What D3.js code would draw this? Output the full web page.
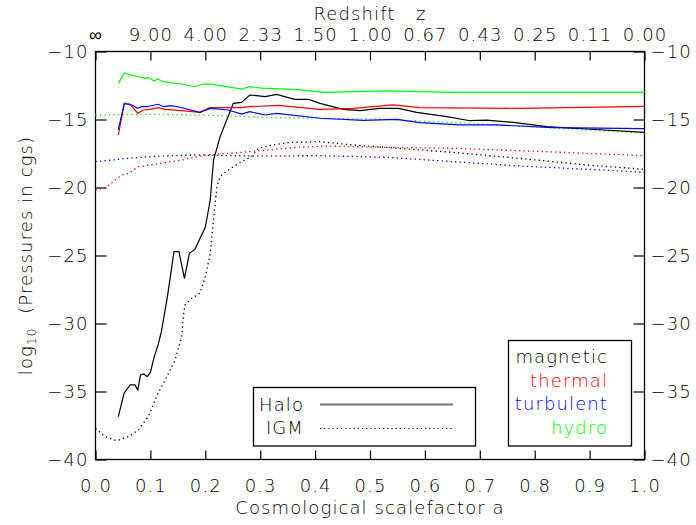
<!DOCTYPE html>
<html>
<head>
<meta charset="utf-8">
<script src="https://cdn.jsdelivr.net/npm/d3@7"></script>
<style>
  body { margin: 0; background: #fff; }
  text { font-family: "DejaVu Sans", sans-serif; font-weight: 300; fill: #000; letter-spacing: 1.1px; }
</style>
</head>
<body>
<svg id="chart" width="696" height="525"></svg>
<script>
// scalefactor ticks and redshift labels on the top axis
var aTicks = [0, 0.1, 0.2, 0.3, 0.4, 0.5, 0.6, 0.7, 0.8, 0.9, 1.0];
var zLabels = ["\u221E", "9.00", "4.00", "2.33", "1.50", "1.00", "0.67", "0.43", "0.25", "0.11", "0.00"];
var yTicks = [-10, -15, -20, -25, -30, -35, -40];

// Halo (solid)
var haloMagA = [0.0415,0.052,0.063,0.072,0.077,0.082,0.088,0.094,0.1,0.107,0.114,0.12,0.131,0.143,0.152,0.162,0.171,0.181,0.2,0.209,0.215,0.227,0.239,0.251,0.266,0.281,0.309,0.33,0.363,0.388,0.409,0.451,0.482,0.518,0.552,0.585,0.64,0.682,0.712,0.761,0.822,0.895,1.0];
var haloMag = [-36.85,-35.13,-34.52,-34.52,-34.89,-33.79,-33.71,-33.91,-33.6,-32.44,-31.58,-30.6,-28.03,-24.72,-24.72,-26.68,-24.84,-24.55,-22.93,-20.92,-17.98,-16.26,-15.04,-13.81,-13.74,-13.2,-13.32,-13.15,-13.52,-13.52,-13.81,-14.25,-14.35,-14.18,-14.18,-14.47,-14.79,-15.09,-15.04,-15.21,-15.53,-15.7,-15.94];

var haloThermA = [0.0415,0.0525,0.063,0.077,0.087,0.099,0.114,0.127,0.157,0.19,0.209,0.242,0.266,0.281,0.333,0.409,0.47,0.542,0.591,0.773,1.0];
var haloTherm = [-16.14,-13.86,-13.86,-14.55,-14.3,-14.25,-14.13,-14.25,-14.35,-14.47,-14.13,-14.13,-14.13,-14.06,-13.96,-14.25,-14.18,-13.93,-14.13,-14.18,-14.03];

var haloTurbA = [0.0415,0.0525,0.066,0.077,0.084,0.093,0.114,0.124,0.137,0.154,0.19,0.209,0.242,0.266,0.281,0.309,0.33,0.409,0.488,0.549,0.591,0.664,0.731,0.834,1.0];
var haloTurb = [-15.77,-13.81,-13.93,-14.18,-14.06,-14.06,-13.88,-14.06,-13.98,-14.1,-14.47,-14.18,-14.3,-14.6,-14.42,-14.67,-14.55,-14.91,-15.06,-14.99,-15.23,-15.4,-15.4,-15.6,-15.67];

var haloHydroA = [0.0415,0.0525,0.072,0.09,0.096,0.107,0.113,0.124,0.157,0.181,0.196,0.212,0.266,0.281,0.303,0.363,0.418,0.53,0.65,0.8,1.0];
var haloHydro = [-12.34,-11.6,-11.8,-11.97,-11.9,-12.17,-12.02,-12.24,-12.39,-12.59,-12.39,-12.4,-12.76,-12.59,-12.7,-12.78,-13.0,-12.9,-13.0,-13.0,-13.0];

// IGM (dotted)
var igmMagA = [0.0,0.017,0.039,0.06,0.078,0.096,0.114,0.13,0.145,0.157,0.16,0.163,0.175,0.19,0.2,0.209,0.215,0.221,0.227,0.242,0.266,0.284,0.297,0.321,0.351,0.409,0.47,0.53,0.652,0.773,0.895,1.0];
var igmMag = [-37.71,-38.32,-38.62,-38.32,-37.83,-36.85,-35.13,-33.91,-32.68,-30.97,-29.5,-28.64,-28.15,-27.78,-26.56,-24.84,-22.39,-19.94,-19.2,-18.71,-18.1,-17.74,-17.12,-16.88,-16.7,-16.63,-16.88,-17.05,-17.42,-17.86,-18.35,-18.66];

var igmThermA = [0,0.017,0.036,0.048,0.06,0.078,0.12,0.157,0.2,0.242,0.303,0.363,0.418,0.53,0.652,0.773,0.895,1.0];
var igmTherm = [-20.18,-20.06,-19.45,-19.08,-18.96,-18.47,-18.22,-17.98,-17.61,-17.49,-17.29,-17.05,-16.95,-17.05,-17.12,-17.29,-17.49,-17.66];

var igmTurbA = [0,0.06,0.12,0.181,0.242,0.303,0.409,0.53,0.652,0.773,0.895,1.0];
var igmTurb = [-18.1,-17.85,-17.68,-17.61,-17.66,-17.68,-17.66,-17.78,-18.1,-18.42,-18.66,-18.88];

var igmHydroA = [0,0.06,0.12,0.181,0.242,0.303,0.418,0.53,0.652,0.773,0.895,1.0];
var igmHydro = [-14.67,-14.62,-14.62,-14.67,-14.74,-14.84,-14.91,-14.99,-15.23,-15.48,-15.77,-16.01];

var kinds = ["magnetic", "thermal", "turbulent", "hydro"];
var colors = ["#000000", "#ff0000", "#0000ff", "#00ff00"];

var svg = d3.select("#chart"),
    mLeft = 95.5, mRight = 644.5, mTop = 51.5, mBottom = 459.5;

var x = d3.scaleLinear().domain([0, 1]).range([mLeft, mRight]);
var y = d3.scaleLinear().domain([-40, -10]).range([mBottom, mTop]);

// axes, ticks point inward
var fmtY = function (d) { return "\u2212" + Math.abs(d); };

svg.append("g").attr("transform", "translate(0," + mBottom + ")")
    .call(d3.axisBottom(x).tickValues(aTicks).tickFormat(d3.format(".1f")).tickSizeInner(-9).tickSizeOuter(0).tickPadding(20));
svg.append("g").attr("transform", "translate(0," + mTop + ")")
    .call(d3.axisTop(x).tickValues(aTicks).tickFormat(function (d, i) { return zLabels[i]; }).tickSizeInner(-9).tickSizeOuter(0).tickPadding(11));
svg.append("g").attr("transform", "translate(" + mLeft + ",0)")
    .call(d3.axisLeft(y).tickValues(yTicks).tickFormat(fmtY).tickSizeInner(-11).tickSizeOuter(0).tickPadding(7));
svg.append("g").attr("transform", "translate(" + mRight + ",0)")
    .call(d3.axisRight(y).tickValues(yTicks).tickFormat(fmtY).tickSizeInner(-11).tickSizeOuter(0).tickPadding(6));

svg.selectAll(".domain").remove();
svg.selectAll(".tick line").attr("stroke", "#000").attr("stroke-width", 1.2);
svg.selectAll(".tick text").style("font-size", "18px");

svg.append("rect")
    .attr("x", mLeft).attr("y", mTop)
    .attr("width", mRight - mLeft).attr("height", mBottom - mTop)
    .attr("fill", "none").attr("stroke", "#000").attr("stroke-width", 1.3);

// curves
var line = d3.line()
    .x(function (d) { return x(d[0]); })
    .y(function (d) { return y(d[1]); });

var haloSets = [[haloMagA, haloMag], [haloThermA, haloTherm], [haloTurbA, haloTurb], [haloHydroA, haloHydro]];
var igmSets = [[igmMagA, igmMag], [igmThermA, igmTherm], [igmTurbA, igmTurb], [igmHydroA, igmHydro]];

var curves = svg.append("g");
igmSets.forEach(function (s, i) {
    curves.append("path")
        .datum(d3.zip(s[0], s[1]))
        .attr("d", line)
        .attr("fill", "none")
        .attr("stroke", colors[i])
        .attr("stroke-width", 1.3)
        .attr("stroke-dasharray", "1.3,3.2");
});
haloSets.forEach(function (s, i) {
    curves.append("path")
        .datum(d3.zip(s[0], s[1]))
        .attr("d", line)
        .attr("fill", "none")
        .attr("stroke", colors[i])
        .attr("stroke-width", 1.2);
});

// titles
svg.append("text")
    .attr("x", 370).attr("y", 20)
    .attr("text-anchor", "middle")
    .style("font-size", "18px").style("white-space", "pre")
    .text("Redshift   z");

svg.append("text")
    .attr("x", 370).attr("y", 514)
    .attr("text-anchor", "middle")
    .style("font-size", "18px")
    .text("Cosmological scalefactor a");

var ylab = svg.append("text")
    .attr("transform", "translate(32," + ((mTop + mBottom) / 2) + ") rotate(-90)")
    .attr("text-anchor", "middle")
    .style("font-size", "18px");
ylab.append("tspan").text("log");
ylab.append("tspan").attr("dy", 4).style("font-size", "12px").text("10");
ylab.append("tspan").attr("dy", -4).style("white-space", "pre").text("  (Pressures in cgs)");

// Halo / IGM legend
var leg1 = svg.append("g");
leg1.append("rect")
    .attr("x", 253.5).attr("y", 387.5).attr("width", 222).attr("height", 58.5)
    .attr("fill", "none").attr("stroke", "#000").attr("stroke-width", 1.3);
leg1.append("text").attr("x", 304).attr("y", 411).attr("text-anchor", "end")
    .style("font-size", "18px").text("Halo");
leg1.append("text").attr("x", 304).attr("y", 434).attr("text-anchor", "end")
    .style("font-size", "18px").text("IGM");
leg1.append("line").attr("x1", 320).attr("x2", 453).attr("y1", 404.5).attr("y2", 404.5)
    .attr("stroke", "#777").attr("stroke-width", 2);
leg1.append("line").attr("x1", 320).attr("x2", 453).attr("y1", 428.5).attr("y2", 428.5)
    .attr("stroke", "#000").attr("stroke-width", 1.2).attr("stroke-dasharray", "1.2,3");

// component legend
var leg2 = svg.append("g");
leg2.append("rect")
    .attr("x", 508.5).attr("y", 340.5).attr("width", 123).attr("height", 105.5)
    .attr("fill", "none").attr("stroke", "#000").attr("stroke-width", 1.3);
kinds.forEach(function (k, i) {
    leg2.append("text")
        .attr("x", 608).attr("y", 363 + i * 23.7)
        .attr("text-anchor", "end")
        .style("font-size", "18px")
        .style("fill", colors[i])
        .text(k);
});
</script>
</body>
</html>
